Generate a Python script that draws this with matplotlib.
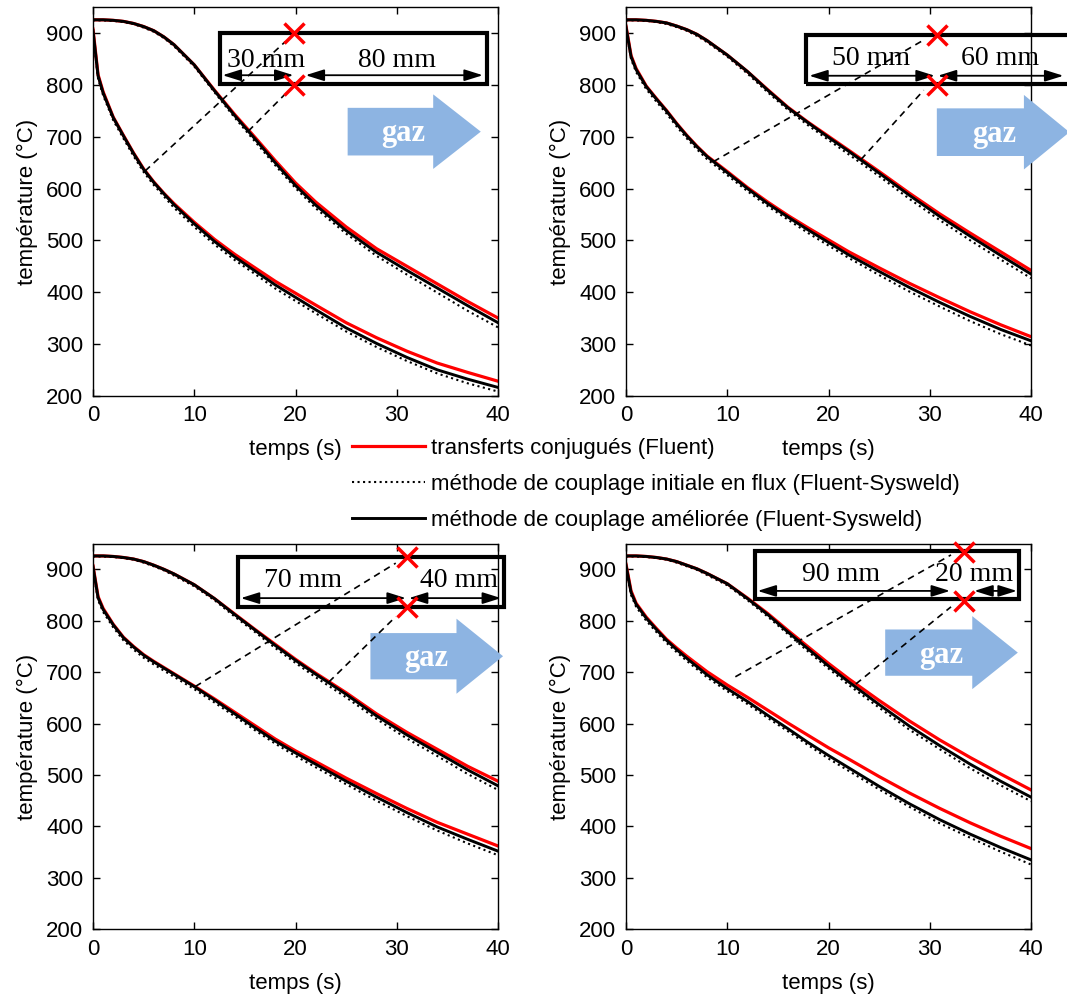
import matplotlib
matplotlib.use('Agg')
import matplotlib.pyplot as plt
from matplotlib.patches import Rectangle, Polygon

plt.rcParams['font.family'] = ['Liberation Sans', 'DejaVu Sans']
plt.rcParams['font.size'] = 16

# time (s)
t = [0, 0.5, 1, 2, 3, 4, 5, 6, 7, 8, 10, 12, 14, 16, 18, 20, 22, 25, 28, 31, 34, 37, 40]

# panel 1 : 30 mm / 80 mm
up_red_1 = [926, 926, 926, 925, 923, 919, 913, 905, 893, 878, 839, 790, 743, 699, 654, 611, 574, 526, 484, 450, 416, 382, 350]
up_dot_1 = [925, 925, 925, 924, 922, 918, 911, 903, 891, 875, 836, 786, 737, 691, 645, 601, 562, 513, 470, 434, 399, 364, 332]
up_blk_1 = [926, 926, 926, 925, 923, 919, 913, 905, 893, 878, 839, 789, 741, 696, 650, 606, 568, 519, 477, 442, 408, 374, 341]
lo_red_1 = [908, 820, 787, 738, 703, 669, 638, 613, 591, 571, 535, 502, 473, 447, 421, 398, 375, 341, 312, 286, 263, 245, 228]
lo_dot_1 = [900, 812, 780, 732, 697, 663, 632, 607, 585, 563, 526, 492, 462, 435, 407, 383, 359, 324, 294, 267, 243, 224, 208]
lo_blk_1 = [905, 818, 785, 737, 702, 668, 637, 612, 590, 569, 532, 498, 468, 441, 414, 390, 366, 331, 301, 274, 250, 232, 216]

# panel 2 : 50 mm / 60 mm
up_red_2 = [926, 926, 926, 925, 923, 920, 914, 907, 898, 886, 858, 826, 791, 757, 728, 701, 674, 633, 591, 551, 514, 478, 442]
up_dot_2 = [925, 925, 925, 924, 922, 918, 912, 905, 895, 883, 855, 822, 786, 752, 722, 694, 666, 624, 580, 539, 500, 463, 427]
up_blk_2 = [926, 926, 926, 925, 923, 920, 914, 907, 898, 886, 858, 826, 790, 756, 727, 699, 672, 630, 587, 546, 508, 471, 435]
lo_red_2 = [914, 857, 832, 798, 774, 751, 726, 703, 682, 663, 633, 602, 574, 548, 524, 501, 478, 447, 417, 389, 362, 337, 314]
lo_dot_2 = [907, 850, 825, 792, 768, 745, 720, 697, 676, 657, 626, 595, 566, 540, 514, 490, 466, 433, 401, 372, 344, 319, 297]
lo_blk_2 = [912, 855, 830, 797, 773, 750, 725, 702, 681, 662, 631, 600, 571, 545, 520, 496, 472, 440, 409, 380, 353, 328, 306]

# panel 3 : 70 mm / 40 mm
up_red_3 = [926, 926, 926, 925, 923, 920, 915, 908, 900, 891, 870, 843, 813, 783, 754, 725, 698, 660, 619, 583, 550, 517, 488]
up_dot_3 = [925, 925, 925, 924, 922, 919, 913, 906, 898, 888, 867, 840, 808, 778, 747, 718, 690, 651, 609, 571, 537, 502, 471]
up_blk_3 = [926, 926, 926, 925, 923, 920, 915, 908, 900, 891, 870, 843, 812, 782, 752, 723, 696, 657, 615, 578, 544, 510, 479]
lo_red_3 = [907, 847, 824, 793, 768, 750, 734, 721, 709, 697, 673, 648, 622, 596, 570, 547, 526, 494, 464, 435, 408, 385, 362]
lo_dot_3 = [900, 840, 817, 787, 762, 744, 728, 715, 703, 691, 667, 641, 614, 587, 561, 537, 515, 482, 450, 420, 392, 367, 344]
lo_blk_3 = [905, 845, 822, 792, 767, 749, 733, 720, 708, 696, 672, 646, 619, 592, 566, 543, 521, 488, 457, 427, 399, 375, 352]

# panel 4 : 90 mm / 20 mm
up_red_4 = [926, 926, 926, 925, 923, 920, 915, 908, 901, 892, 872, 844, 814, 781, 749, 717, 687, 645, 605, 568, 534, 502, 471]
up_dot_4 = [925, 925, 925, 924, 922, 919, 913, 906, 899, 889, 869, 840, 808, 774, 740, 707, 675, 631, 588, 550, 513, 480, 449]
up_blk_4 = [926, 926, 926, 925, 923, 920, 915, 908, 901, 892, 872, 843, 812, 778, 745, 712, 681, 637, 595, 557, 521, 488, 457]
lo_red_4 = [910, 858, 834, 807, 785, 764, 747, 731, 716, 701, 675, 651, 626, 601, 577, 553, 531, 497, 465, 435, 407, 381, 357]
lo_dot_4 = [903, 850, 827, 800, 778, 757, 739, 722, 706, 690, 663, 638, 611, 585, 558, 532, 508, 472, 438, 406, 378, 351, 326]
lo_blk_4 = [908, 855, 832, 805, 783, 762, 744, 727, 711, 695, 668, 643, 616, 590, 563, 538, 514, 478, 444, 413, 385, 359, 335]

dist_labels = [('30 mm', '80 mm'), ('50 mm', '60 mm'), ('70 mm', '40 mm'), ('90 mm', '20 mm')]
legend_labels = ['transferts conjugués (Fluent)',
                 'méthode de couplage initiale en flux (Fluent-Sysweld)',
                 'méthode de couplage améliorée (Fluent-Sysweld)']

series = [
    (up_red_1, up_dot_1, up_blk_1, lo_red_1, lo_dot_1, lo_blk_1),
    (up_red_2, up_dot_2, up_blk_2, lo_red_2, lo_dot_2, lo_blk_2),
    (up_red_3, up_dot_3, up_blk_3, lo_red_3, lo_dot_3, lo_blk_3),
    (up_red_4, up_dot_4, up_blk_4, lo_red_4, lo_dot_4, lo_blk_4),
]

# sketch overlay geometry (data coordinates of each panel)
sketch = [
    dict(box=(12.5, 803, 38.9, 900), arr_y=819, arr=[(12.8, 19.8), (21.0, 38.5)],
         lab_y=847, lab_x=(17.1, 30.0), cross_x=19.85, cross_y=(901, 801),
         dash=[((5.14, 634), (19.0, 884)), ((15.34, 711), (18.9, 781))],
         gaz=(25.15, 33.6, 38.3, 710, 46, 72), gaz_txt=(30.6, 706)),
    dict(box=(17.8, 802, 47, 897), arr_y=818, arr=[(18.1, 30.5), (30.8, 43.2)],
         lab_y=852, lab_x=(24.2, 36.9), cross_x=30.7, cross_y=(897, 800),
         dash=[((8.63, 652), (29.4, 887)), ((23.2, 656), (29.4, 790))],
         gaz=(30.7, 39.3, 43.8, 709, 46, 72), gaz_txt=(36.4, 705)),
    dict(box=(14.36, 826, 40.6, 923), arr_y=844, arr=[(14.6, 30.9), (31.2, 40.3)],
         lab_y=879, lab_x=(20.7, 36.1), cross_x=31.0, cross_y=(923, 826),
         dash=[((10.1, 672), (29.9, 912)), ((23.3, 681), (29.9, 808))],
         gaz=(27.4, 35.9, 40.5, 731, 45, 73), gaz_txt=(32.9, 727)),
    dict(box=(12.7, 842, 38.85, 936), arr_y=858, arr=[(13.0, 32.0), (34.4, 38.6)],
         lab_y=889, lab_x=(21.2, 34.4), cross_x=33.4, cross_y=(934, 839),
         dash=[((10.8, 691), (32.1, 928)), ((22.7, 677), (32.1, 827))],
         gaz=(25.6, 34.2, 38.7, 738, 45, 71), gaz_txt=(31.1, 732)),
]

W, H = 1067, 994
fig = plt.figure(figsize=(W / 100, H / 100), dpi=100)
rects = [(93, 7.4, 405, 388.3), (626, 7.4, 405, 388.3),
         (93, 543.6, 405, 385.7), (626, 543.6, 405, 385.7)]
gaz_col = '#8DB4E2'

handles = None
for i in range(4):
    x0, y0, w, h = rects[i]
    ax = fig.add_axes([x0 / W, 1 - (y0 + h) / H, w / W, h / H])
    ur, ud, ub, lr, ld, lb = series[i]
    hr, = ax.plot(t, ur, color='red', lw=2.3)
    hd, = ax.plot(t, ud, color='black', lw=1.5, ls=':')
    hb, = ax.plot(t, ub, color='black', lw=2.1)
    ax.plot(t, lr, color='red', lw=2.3)
    ax.plot(t, ld, color='black', lw=1.5, ls=':')
    ax.plot(t, lb, color='black', lw=2.1)
    if handles is None:
        handles = [hr, hd, hb]

    ax.set_xlim(0, 40)
    ax.set_ylim(200, 950)
    ax.set_xticks([0, 10, 20, 30, 40])
    ax.set_yticks(range(200, 901, 100))
    ax.tick_params(direction='in', top=True, right=True, length=5, width=1, pad=7, labelsize=16)
    for s in ax.spines.values():
        s.set_linewidth(1.0)
    ax.set_xlabel('temps (s)', labelpad=9)
    ax.set_ylabel('température (°C)', labelpad=6)

    sk = sketch[i]
    bx0, by0, bx1, by1 = sk['box']
    ax.add_patch(Rectangle((bx0, by0), bx1 - bx0, by1 - by0, fill=False, lw=3,
                           ec='black', clip_on=False, zorder=5))
    for a0, a1 in sk['arr']:
        ax.annotate('', xy=(a1, sk['arr_y']), xytext=(a0, sk['arr_y']), annotation_clip=False,
                    arrowprops=dict(arrowstyle='<|-|>,head_length=0.7,head_width=0.22',
                                    color='black', lw=1.3, shrinkA=0, shrinkB=0), zorder=6)
    for lx, txt in zip(sk['lab_x'], dist_labels[i]):
        ax.text(lx, sk['lab_y'], txt, ha='center', va='center', fontsize=20,
                family='Liberation Serif', zorder=6)
    for (p0, p1) in sk['dash']:
        ax.plot([p0[0], p1[0]], [p0[1], p1[1]], color='black', lw=1.2,
                ls=(0, (4, 3)), clip_on=False, zorder=4)
    ax.plot([sk['cross_x']] * 2, sk['cross_y'], ls='none', marker='x', ms=15,
            mew=2.5, color='red', clip_on=False, zorder=7)
    gx0, gx1, gtip, gy, bh, hh = sk['gaz']
    verts = [(gx0, gy - bh), (gx1, gy - bh), (gx1, gy - hh), (gtip, gy),
             (gx1, gy + hh), (gx1, gy + bh), (gx0, gy + bh)]
    ax.add_patch(Polygon(verts, closed=True, fc=gaz_col, ec='none', clip_on=False, zorder=3))
    ax.text(sk['gaz_txt'][0], sk['gaz_txt'][1], 'gaz', ha='center', va='center',
            fontsize=22, fontweight='bold', color='white', family='Liberation Serif', zorder=6)

fig.legend(handles, legend_labels, loc='upper left', bbox_to_anchor=(352 / W, 1 - 438 / H),
           frameon=False, fontsize=16, handlelength=3.3, handletextpad=0.25,
           labelspacing=0.68, borderpad=0, borderaxespad=0)

fig.savefig('out.png', dpi=100)
